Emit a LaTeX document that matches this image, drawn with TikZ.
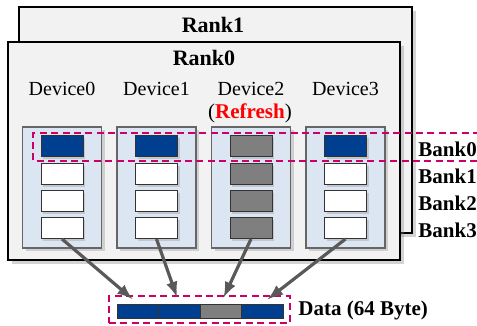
\documentclass[tikz,border=0pt]{standalone}
\usepackage{fontspec}
\setmainfont{Liberation Serif}
\usetikzlibrary{shadows,arrows}

\definecolor{rankgray}{HTML}{F2F2F2}
\definecolor{devblue}{HTML}{DCE6F2}
\definecolor{bankblue}{HTML}{003F8F}
\definecolor{bankgray}{HTML}{7F7F7F}
\definecolor{linkgray}{HTML}{595959}
\definecolor{selpink}{HTML}{CC0066}

\begin{document}
\begin{tikzpicture}[
    x=0.5pt, y=-0.5pt,
    every node/.style={inner sep=0pt},
    rank/.style={draw=black, fill=rankgray, line width=0.6pt,
      drop shadow={shadow xshift=2pt, shadow yshift=-2pt, opacity=0.35}},
    device/.style={draw=black!60, fill=devblue, line width=0.6pt,
      minimum width=39.5pt, minimum height=60.5pt,
      drop shadow={shadow xshift=1.5pt, shadow yshift=-1.5pt, opacity=0.3}},
    bank/.style={draw=black!80, line width=0.5pt, minimum width=21pt, minimum height=10.5pt,
      drop shadow={shadow xshift=1.2pt, shadow yshift=-1.2pt, opacity=0.3}},
    seg/.style={draw=black!80, line width=0.4pt, minimum width=20.75pt, minimum height=7pt},
    select/.style={draw=selpink, line width=0.9pt, dash pattern=on 3.5pt off 2.2pt},
    link/.style={draw=linkgray, line width=1.6pt, -latex, shorten >=3.5pt},
    ranklabel/.style={font=\bfseries\fontsize{11}{13}\selectfont},
    devlabel/.style={font=\fontsize{10}{12}\selectfont},
    banklabel/.style={font=\bfseries\fontsize{10.5}{12}\selectfont, anchor=west}
    ]

    \useasboundingbox (0,0) rectangle (477,326);

    % ranks
    \node[rank, minimum width=196.5pt, minimum height=113pt] (rank1) at (215.5,120) {};
    \node[ranklabel] (rank1name) at (213,25) {Rank1};
    \node[rank, minimum width=196pt, minimum height=109pt] (rank0) at (204,151) {};
    \node[ranklabel] (rank0name) at (204,58) {Rank0};

    % devices and their banks
    \foreach \i/\x/\first/\rest in {0/62/bankblue/white, 1/156.5/bankblue/white,
        2/251/bankgray/bankgray, 3/345.5/bankblue/white} {
      \node[devlabel] (name\i) at (\x,89) {Device\i};
      \node[device] (dev\i) at (\x,187.5) {};
      \node[bank, fill=\first] (b\i-0) at (\x,146) {};
      \foreach \j/\y in {1/174, 2/201, 3/228}
        \node[bank, fill=\rest] (b\i-\j) at (\x,\y) {};
    }
    \node[font=\fontsize{10.5}{12}\selectfont] (refresh) at (250,113)
      {(\textcolor{red}{\textbf{Refresh}})};

    % selected bank row
    \draw[select] (480,133) -- (33,133) -- (33,161) -- (480,161);
    \foreach \j/\y in {0/149, 1/176, 2/203, 3/230}
      \node[banklabel] (bank\j) at (418,\y) {Bank\j};

    % data burst
    \node[select, minimum width=90.5pt, minimum height=13.5pt] (datasel) at (199.5,309.5) {};
    \foreach \k/\c in {0/bankblue, 1/bankblue, 2/bankgray, 3/bankblue}
      \node[seg, fill=\c] (d\k) at ({137.75+41.5*\k},311) {};
    \node[banklabel] (dataname) at (298,310) {Data (64 Byte)};

    \foreach \i in {0,...,3}
      \draw[link] (b\i-3.south) -- (d\i.north);

\end{tikzpicture}
\end{document}
